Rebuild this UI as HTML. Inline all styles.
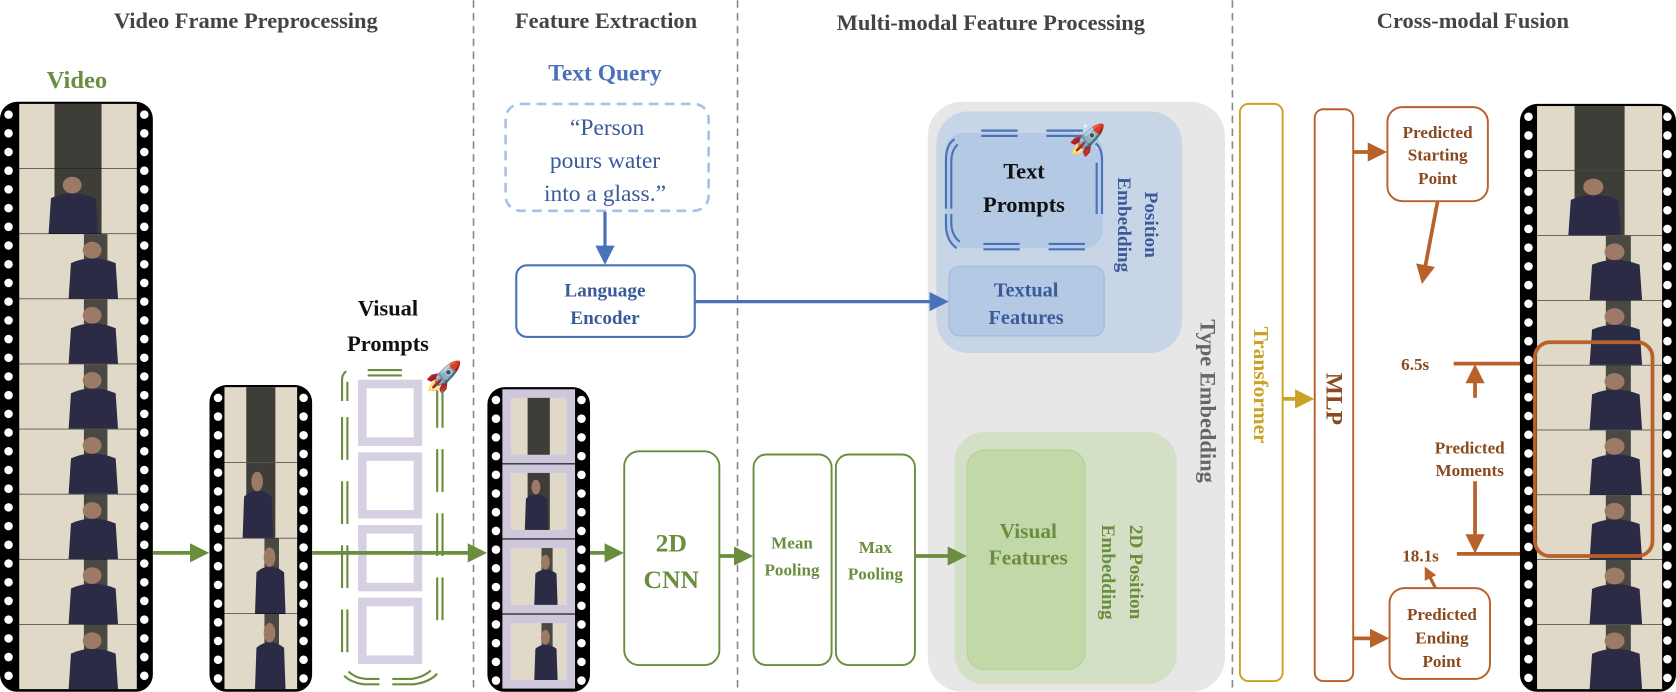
<!DOCTYPE html>
<html><head><meta charset="utf-8"><style>
html,body{margin:0;padding:0;background:#fff;}
svg{display:block;}
text{font-family:"Liberation Serif",serif;font-weight:bold;}
</style></head><body>
<svg id="s" width="1676" height="692" viewBox="0 0 1568 647" xmlns="http://www.w3.org/2000/svg">
<defs>
<marker id="ag" markerWidth="18" markerHeight="18" refX="8" refY="5" orient="auto" markerUnits="userSpaceOnUse" viewBox="0 0 10 10"><path d="M0,0 L10,5 L0,10z" fill="#6b8e3e"/></marker>
<marker id="ab" markerWidth="18" markerHeight="18" refX="8" refY="5" orient="auto" markerUnits="userSpaceOnUse" viewBox="0 0 10 10"><path d="M0,0 L10,5 L0,10z" fill="#4a72b8"/></marker>
<marker id="ao" markerWidth="18" markerHeight="18" refX="8" refY="5" orient="auto" markerUnits="userSpaceOnUse" viewBox="0 0 10 10"><path d="M0,0 L10,5 L0,10z" fill="#b8612a"/></marker>
<marker id="ao2" markerWidth="12" markerHeight="12" refX="8" refY="5" orient="auto" markerUnits="userSpaceOnUse" viewBox="0 0 10 10"><path d="M0,0 L10,5 L0,10z" fill="#b8612a"/></marker>
<marker id="ay" markerWidth="18" markerHeight="18" refX="8" refY="5" orient="auto" markerUnits="userSpaceOnUse" viewBox="0 0 10 10"><path d="M0,0 L10,5 L0,10z" fill="#c9a227"/></marker>
</defs>
<!-- headers -->
<g fill="#444" font-size="21" text-anchor="middle">
<text x="230" y="26">Video Frame Preprocessing</text>
<text x="567" y="26">Feature Extraction</text>
<text x="927" y="28">Multi-modal Feature Processing</text>
<text x="1378" y="26">Cross-modal Fusion</text>
</g>
<g stroke="#888" stroke-width="1.5" stroke-dasharray="7,5">
<line x1="443" y1="0" x2="443" y2="647"/><line x1="690" y1="0" x2="690" y2="647"/><line x1="1153" y1="0" x2="1153" y2="647"/>
</g>
<text x="72" y="82" fill="#6b8e3e" font-size="23" text-anchor="middle">Video</text>
<g id="strips"></g>

<!-- visual prompts -->
<text x="363" y="295" font-size="21" text-anchor="middle" fill="#111">Visual</text>
<text x="363" y="328" font-size="21" text-anchor="middle" fill="#111">Prompts</text>
<text x="398" y="362" font-size="28">🚀</text>
<g id="vp"></g>
<g stroke="#6b8e3e" stroke-width="2" fill="none">
<line x1="344" y1="346" x2="376" y2="346"/><line x1="344" y1="351" x2="376" y2="351"/>
<path d="M320,375 v-20 q0,-5 4,-8 M325,375 v-18" /><line x1="320" y1="390" x2="320" y2="430"/><line x1="325" y1="390" x2="325" y2="430"/>
<line x1="320" y1="450" x2="320" y2="490"/><line x1="325" y1="450" x2="325" y2="490"/>
<line x1="320" y1="510" x2="320" y2="550"/><line x1="325" y1="510" x2="325" y2="550"/>
<line x1="320" y1="570" x2="320" y2="610"/><line x1="325" y1="570" x2="325" y2="610"/>
<line x1="409" y1="365" x2="409" y2="400"/><line x1="414" y1="365" x2="414" y2="400"/>
<line x1="409" y1="420" x2="409" y2="460"/><line x1="414" y1="420" x2="414" y2="460"/>
<line x1="409" y1="480" x2="409" y2="520"/><line x1="414" y1="480" x2="414" y2="520"/>
<line x1="409" y1="540" x2="409" y2="580"/><line x1="414" y1="540" x2="414" y2="580"/>
<path d="M322,632 q6,6 18,8 h15 M326,628 q6,6 16,7 h13 M367,640 h20 q15,-2 22,-10 M367,635 h18 q12,-2 18,-8"/>
</g>

<!-- text query -->
<text x="566" y="75" fill="#4a72b8" font-size="22" text-anchor="middle">Text Query</text>
<rect x="473" y="97" width="190" height="100" rx="14" fill="none" stroke="#a9c1e6" stroke-width="2.5" stroke-dasharray="9,6"/>
<g fill="#3b5a9a" font-size="22" text-anchor="middle">
<text x="568" y="126" style="font-weight:normal">“Person</text>
<text x="566" y="157" style="font-weight:normal">pours water</text>
<text x="566" y="188" style="font-weight:normal">into a glass.”</text>
</g>
<line x1="566" y1="198" x2="566" y2="244" stroke="#4a72b8" stroke-width="3" marker-end="url(#ab)"/>
<rect x="483" y="248" width="167" height="67" rx="10" fill="#fff" stroke="#4a72b8" stroke-width="2"/>
<text x="566" y="277" fill="#3b5a9a" font-size="18" text-anchor="middle">Language</text>
<text x="566" y="303" fill="#3b5a9a" font-size="18" text-anchor="middle">Encoder</text>

<!-- type embedding -->
<rect x="868" y="95" width="278" height="552" rx="32" fill="#e7e7e7"/>
<rect x="876" y="104" width="230" height="226" rx="30" fill="#c8d5e6"/>
<rect x="884" y="124" width="148" height="108" rx="18" fill="#b4c9e4"/>
<g stroke="#4a72b8" stroke-width="2" fill="none">
<line x1="918" y1="122" x2="952" y2="122"/><line x1="918" y1="127" x2="952" y2="127"/>
<line x1="979" y1="122" x2="1013" y2="122"/><line x1="979" y1="127" x2="1013" y2="127"/>
<line x1="920" y1="228" x2="954" y2="228"/><line x1="920" y1="233" x2="954" y2="233"/>
<line x1="981" y1="228" x2="1015" y2="228"/><line x1="981" y1="233" x2="1015" y2="233"/>
<path d="M885,195 v-45 q0,-15 8,-20 M890,195 v-43 q0,-12 6,-17"/>
<path d="M1031,200 v-50 q0,-12 -6,-16 M1026,200 v-48"/>
<path d="M885,200 v10 q0,15 10,22 M890,200 v8 q0,12 8,18"/>
</g>
<text x="1000" y="140" font-size="28">🚀</text>
<text x="958" y="167" font-size="21" text-anchor="middle" fill="#111">Text</text>
<text x="958" y="198" font-size="21" text-anchor="middle" fill="#111">Prompts</text>
<rect x="888" y="249" width="145" height="65" rx="10" fill="#b4c9e4" stroke="#a5bfe2" stroke-width="1.5"/>
<text x="960" y="277" fill="#3b5a9a" font-size="19" text-anchor="middle">Textual</text>
<text x="960" y="303" fill="#3b5a9a" font-size="19" text-anchor="middle">Features</text>
<line x1="650" y1="282" x2="884" y2="282" stroke="#4a72b8" stroke-width="3" marker-end="url(#ab)"/>
<g fill="#3b5a9a" font-size="18" text-anchor="middle">
<text transform="translate(1071,210) rotate(90)">Position</text>
<text transform="translate(1046,210) rotate(90)">Embedding</text>
</g>
<text transform="translate(1123,375) rotate(90)" fill="#666" font-size="21" text-anchor="middle">Type Embedding</text>
<rect x="893" y="404" width="208" height="236" rx="28" fill="#d4e0c6"/>
<rect x="905" y="421" width="110" height="205" rx="16" fill="#c3d8a8" stroke="#b9d49b" stroke-width="1.5"/>
<text x="962" y="503" fill="#6b8e3e" font-size="20" text-anchor="middle">Visual</text>
<text x="962" y="528" fill="#6b8e3e" font-size="20" text-anchor="middle">Features</text>
<g fill="#6b8e3e" font-size="18" text-anchor="middle">
<text transform="translate(1057,535) rotate(90)">2D Position</text>
<text transform="translate(1031,535) rotate(90)">Embedding</text>
</g>

<!-- CNN & pooling -->
<rect x="584" y="422" width="89" height="200" rx="14" fill="#fff" stroke="#6b8e3e" stroke-width="1.8"/>
<text x="628" y="516" fill="#6b8e3e" font-size="24" text-anchor="middle">2D</text>
<text x="628" y="550" fill="#6b8e3e" font-size="24" text-anchor="middle">CNN</text>
<rect x="705" y="425" width="73" height="197" rx="12" fill="#fff" stroke="#6b8e3e" stroke-width="1.8"/>
<rect x="782" y="425" width="74" height="197" rx="12" fill="#fff" stroke="#6b8e3e" stroke-width="1.8"/>
<text x="741" y="513" fill="#6b8e3e" font-size="16" text-anchor="middle">Mean</text>
<text x="741" y="538" fill="#6b8e3e" font-size="16" text-anchor="middle">Pooling</text>
<text x="819" y="517" fill="#6b8e3e" font-size="16" text-anchor="middle">Max</text>
<text x="819" y="542" fill="#6b8e3e" font-size="16" text-anchor="middle">Pooling</text>
<g stroke="#6b8e3e" stroke-width="3.5">
<line x1="143" y1="517" x2="192" y2="517" marker-end="url(#ag)"/>
<line x1="292" y1="517" x2="452" y2="517" marker-end="url(#ag)"/>
<line x1="552" y1="517" x2="580" y2="517" marker-end="url(#ag)"/>
<line x1="673" y1="520" x2="701" y2="520" marker-end="url(#ag)"/>
<line x1="856" y1="520" x2="901" y2="520" marker-end="url(#ag)"/>
</g>

<!-- transformer / MLP -->
<rect x="1160" y="97" width="40" height="540" rx="8" fill="#fff" stroke="#c9a227" stroke-width="1.8"/>
<text transform="translate(1173,360) rotate(90)" fill="#c9a227" font-size="20" text-anchor="middle">Transformer</text>
<rect x="1230" y="102" width="36" height="535" rx="8" fill="#fff" stroke="#b8612a" stroke-width="1.8"/>
<text transform="translate(1241,373) rotate(90)" fill="#8a4a1e" font-size="22" text-anchor="middle">MLP</text>
<line x1="1200" y1="373" x2="1226" y2="373" stroke="#c9a227" stroke-width="3.5" marker-end="url(#ay)"/>
<g stroke="#b8612a" stroke-width="3.5" fill="none">
<line x1="1266" y1="142" x2="1294" y2="142" marker-end="url(#ao)"/>
<line x1="1266" y1="597" x2="1296" y2="597" marker-end="url(#ao)"/>
<line x1="1345" y1="188" x2="1331" y2="262" marker-end="url(#ao)"/>
<line x1="1360" y1="340" x2="1540" y2="340"/>
<line x1="1363" y1="518" x2="1440" y2="518"/>
<line x1="1380" y1="372" x2="1380" y2="344" marker-end="url(#ao)"/>
<line x1="1380" y1="450" x2="1380" y2="514" marker-end="url(#ao)"/>
<line x1="1343" y1="550" x2="1334" y2="532" stroke-width="3" marker-end="url(#ao2)"/>
</g>
<rect x="1298" y="100" width="94" height="88" rx="14" fill="#fff" stroke="#b8612a" stroke-width="1.8"/>
<g fill="#8a4a1e" font-size="16" text-anchor="middle">
<text x="1345" y="129">Predicted</text><text x="1345" y="150">Starting</text><text x="1345" y="172">Point</text>
</g>
<rect x="1300" y="550" width="94" height="85" rx="14" fill="#fff" stroke="#b8612a" stroke-width="1.8"/>
<g fill="#8a4a1e" font-size="16" text-anchor="middle">
<text x="1349" y="580">Predicted</text><text x="1349" y="602">Ending</text><text x="1349" y="624">Point</text>
</g>
<g fill="#8a4a1e" font-size="16" text-anchor="middle">
<text x="1324" y="346">6.5s</text><text x="1329" y="525">18.1s</text>
<text x="1375" y="424">Predicted</text><text x="1375" y="445">Moments</text>
</g>
<g id="rs"></g>
<rect x="1436" y="320" width="110" height="200" rx="14" fill="none" stroke="#b8612a" stroke-width="3.5"/>
</svg>
<script>
function frame(x,y,w,h,k){
 var s='<rect x="'+x+'" y="'+y+'" width="'+w+'" height="'+h+'" fill="#e0d9c8"/>';
 if(k<2){s+='<rect x="'+(x+w*0.3)+'" y="'+y+'" width="'+(w*0.4)+'" height="'+h+'" fill="#3f3d37"/>';}
 else{s+='<rect x="'+(x+w*0.55)+'" y="'+y+'" width="'+(w*0.2)+'" height="'+(h*0.5)+'" fill="#4a4842"/>';}
 if(k>0){var cx=x+w*(k<2?0.45:0.62);
  s+='<path d="M'+(cx-w*0.2)+','+(y+h)+' L'+(cx-w*0.18)+','+(y+h*0.45)+' Q'+cx+','+(y+h*0.3)+' '+(cx+w*0.2)+','+(y+h*0.45)+' L'+(cx+w*0.22)+','+(y+h)+'z" fill="#2c2b46"/>';
  s+='<ellipse cx="'+cx+'" cy="'+(y+h*0.25)+'" rx="'+(w*0.08)+'" ry="'+(h*0.13)+'" fill="#9c7a66"/>';}
 return s;}
function strip(x,y,w,h,n,fx,fw,noisy,ks){
 var s='<rect x="'+x+'" y="'+y+'" width="'+w+'" height="'+h+'" rx="16" fill="#000"/>';
 for(var hy=y+12;hy<y+h-6;hy+=17.5){s+='<circle cx="'+(x+8)+'" cy="'+hy+'" r="4" fill="#fff"/><circle cx="'+(x+w-8)+'" cy="'+hy+'" r="4" fill="#fff"/>';}
 var fh=(h-4)/n;
 for(var i=0;i<n;i++){var fy=y+2+i*fh;
  if(noisy){s+='<rect x="'+fx+'" y="'+fy+'" width="'+fw+'" height="'+(fh-1)+'" fill="#cfc8dc"/>'+frame(fx+8,fy+8,fw-16,fh-17,ks[i]);}
  else s+=frame(fx,fy,fw,fh-0.5,ks[i]);}
 return s;}
var g='';
g+=strip(0,95,143,552,9,18,110,false,[0,1,2,2,2,2,2,2,2]);
g+=strip(196,360,96,287,4,210,68,false,[0,1,2,2]);
g+=strip(456,362,96,285,4,470,68,true,[0,1,2,2]);
document.getElementById('strips').innerHTML=g;
var v='';
for(var i=0;i<4;i++){var y=355+i*68;v+='<rect x="335" y="'+y+'" width="60" height="62" fill="#d6d0e2"/><rect x="343" y="'+(y+8)+'" width="44" height="46" fill="#fff"/>';}
document.getElementById('vp').innerHTML=v;
document.getElementById('rs').innerHTML=strip(1422,97,146,550,9,1438,117,false,[0,1,2,2,2,2,2,2,2]);
</script>
</body></html>
